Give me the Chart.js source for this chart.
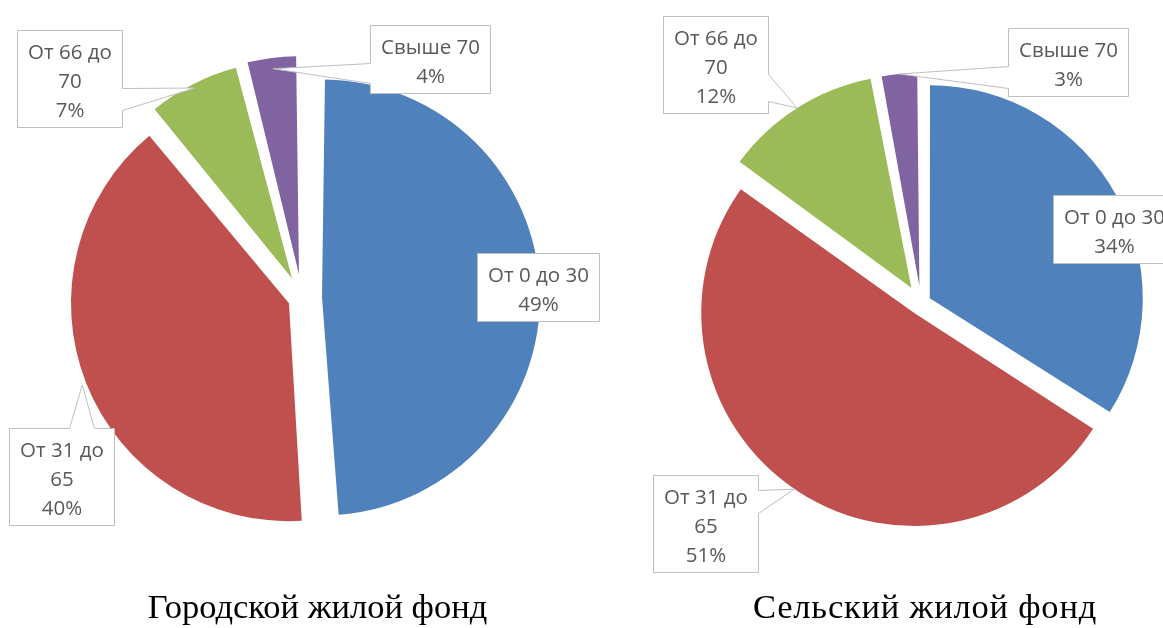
<!DOCTYPE html>
<html>
<head>
<meta charset="utf-8">
<script src="https://cdn.jsdelivr.net/npm/chart.js@4/dist/chart.umd.min.js"></script>
<style>
html,body{margin:0;padding:0;background:#fff;overflow:hidden;width:1163px;height:628px}
canvas{position:absolute;left:0;top:0}
</style>
</head>
<body>
<canvas id="c1" width="1163" height="628"></canvas>
<canvas id="c2" width="1163" height="628"></canvas>
<script>
// ---- data ----
const categories = [['От 0 до 30'], ['От 31 до', '65'], ['От 66 до', '70'], ['Свыше 70']];
const urbanValues = [49, 40, 7, 4];
const ruralValues = [34, 51, 12, 3];
const chartTitles = ['Городской жилой фонд', 'Сельский жилой фонд'];

// ---- styles / layout ----
const colors = ['#4F81BD', '#C0504D', '#9BBB59', '#8064A2'];
const LABEL_FONT = '20.5px "Open Sans"';
const TITLE_FONT = '34.5px "Liberation Serif"';
const LINE = 29, PADX = 10.5, PADY = 5, FIRST_BASE = 28;

const layouts = [
  {
    padding: {left: 0, right: 559, top: 0, bottom: 32},
    radius: 218,
    offsets: [80, 56, 88, 96],
    titleDx: 15.5, titleY: 618, titleSpacing: 0,
    callouts: [
      {dx: 235.5, dy: -11, side: null},
      {dx: -241, dy: 178.5, side: 'top', b0: 60, b1: 85, k: 1.02},
      {dx: -233, dy: -219.5, side: 'right', b0: 58, b1: 80, k: 0.98},
      {dx: 128, dy: -239, side: 'left', b0: 38, b1: 58, k: 0.95}
    ]
  },
  {
    padding: {left: 679, right: 0, top: 0, bottom: 22},
    radius: 213,
    offsets: [40, 48, 72, 68],
    titleDx: 4, titleY: 618, titleSpacing: 0.8,
    callouts: [
      {dx: 193, dy: -74.5, side: null},
      {dx: -216, dy: 220.5, side: 'right', b0: 15, b1: 38, k: 1.0},
      {dx: -206, dy: -238.5, side: 'right', b0: 58, b1: 85, k: 1.0},
      {dx: 147, dy: -241, side: 'left', b0: 38, b1: 60, k: 1.0}
    ]
  }
];

function makePlugin(cfg, title) {
  return {
    id: 'calloutsAndTitle',
    beforeDatasetDraw(chart) {
      const meta = chart.getDatasetMeta(0);
      const R = meta.controller.outerRadius;
      meta.data.forEach(el => {
        const d = (el.options.offset || 0) / 4;
        const fix = 1 - Math.sin(Math.min(Math.PI, el.circumference));
        el.outerRadius = R - d * fix;
      });
    },
    afterDraw(chart) {
      const ctx = chart.ctx;
      const meta = chart.getDatasetMeta(0);
      const R = meta.controller.outerRadius;
      const values = chart.data.datasets[0].data;
      ctx.save();
      ctx.font = LABEL_FONT;
      meta.data.forEach((el, i) => {
        const c = cfg.callouts[i];
        const lines = [...chart.data.labels[i], values[i] + '%'];
        const w = Math.round(Math.max(...lines.map(l => ctx.measureText(l).width)) + 2 * PADX);
        const h = lines.length * LINE + 2 * PADY;
        const left = Math.round(el.x + c.dx - w / 2) + 0.5;
        const top = Math.round(el.y + c.dy - h / 2) + 0.5;
        const mid = (el.startAngle + el.endAngle) / 2;
        const d = (el.options.offset || 0) / 4;
        const tx = el.x + Math.cos(mid) * (d + R * (c.k || 1));
        const ty = el.y + Math.sin(mid) * (d + R * (c.k || 1));
        ctx.beginPath();
        ctx.moveTo(left, top);
        if (c.side === 'top') { ctx.lineTo(left + c.b0, top); ctx.lineTo(tx, ty); ctx.lineTo(left + c.b1, top); }
        ctx.lineTo(left + w, top);
        if (c.side === 'right') { ctx.lineTo(left + w, top + c.b0); ctx.lineTo(tx, ty); ctx.lineTo(left + w, top + c.b1); }
        ctx.lineTo(left + w, top + h);
        if (c.side === 'bottom') { ctx.lineTo(left + c.b1, top + h); ctx.lineTo(tx, ty); ctx.lineTo(left + c.b0, top + h); }
        ctx.lineTo(left, top + h);
        if (c.side === 'left') { ctx.lineTo(left, top + c.b1); ctx.lineTo(tx, ty); ctx.lineTo(left, top + c.b0); }
        ctx.closePath();
        ctx.fillStyle = '#ffffff';
        ctx.fill();
        ctx.lineWidth = 1;
        ctx.strokeStyle = '#BFBFBF';
        ctx.stroke();
        ctx.fillStyle = '#595959';
        ctx.textAlign = 'center';
        ctx.textBaseline = 'alphabetic';
        lines.forEach((l, j) => {
          ctx.fillText(l, left + w / 2, top + FIRST_BASE + j * LINE);
        });
      });
      const el0 = meta.data[0];
      ctx.font = TITLE_FONT;
      if ('letterSpacing' in ctx) ctx.letterSpacing = cfg.titleSpacing + 'px';
      ctx.fillStyle = '#000000';
      ctx.textAlign = 'center';
      ctx.textBaseline = 'alphabetic';
      ctx.fillText(title, el0.x + cfg.titleDx, cfg.titleY);
      ctx.restore();
    }
  };
}

function build(id, values, cfg, title) {
  return new Chart(document.getElementById(id), {
    type: 'pie',
    data: {
      labels: categories,
      datasets: [{
        data: values,
        backgroundColor: colors,
        borderWidth: 0,
        offset: cfg.offsets,
        hoverOffset: 0
      }]
    },
    options: {
      responsive: false,
      animation: false,
      events: [],
      radius: cfg.radius,
      layout: {padding: cfg.padding},
      plugins: {
        legend: {display: false},
        tooltip: {enabled: false},
        title: {display: false}
      }
    },
    plugins: [makePlugin(cfg, title)]
  });
}

build('c1', urbanValues, layouts[0], chartTitles[0]);
build('c2', ruralValues, layouts[1], chartTitles[1]);
</script>
</body>
</html>
